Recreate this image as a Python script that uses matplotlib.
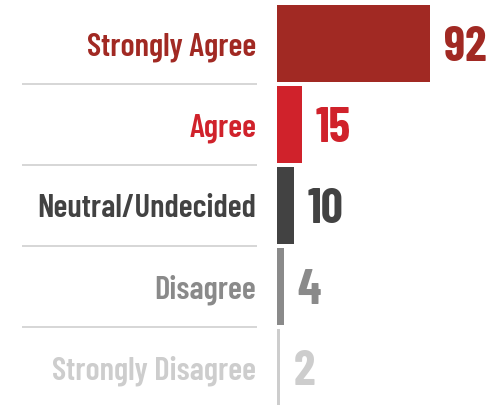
import matplotlib
matplotlib.use("Agg")
import matplotlib.pyplot as plt

# survey answers, top to bottom
categories = [
    "Strongly Agree",
    "Agree",
    "Neutral/Undecided",
    "Disagree",
    "Strongly Disagree",
]
counts = [92, 15, 10, 4, 2]
colors = ["#a12923", "#d0222b", "#424242", "#8a8a8a", "#cdcdcd"]

plt.rcParams["font.family"] = ["Barlow Condensed", "Roboto Condensed", "DejaVu Sans"]

fig = plt.figure(figsize=(4.91, 4.06), dpi=100)
ax = fig.add_axes([0, 0, 1, 1])

px_per_unit = 1.663  # bar length scale
x0_px = 277  # where bars start
rows = list(range(len(categories)))

ax.barh(rows, counts, height=0.95, color=colors, zorder=2)

for i, (cat, val, c) in enumerate(zip(categories, counts, colors)):
    ax.text(-12.5, i + 0.03, cat, ha="right", va="center",
            fontsize=23.5, fontweight=600, color=c)
    ax.annotate(str(val), xy=(val, i + 0.04), xytext=(10, 0),
                textcoords="offset points", ha="left", va="center",
                fontsize=35, fontweight="bold", color=c)

# thin rules between the rows, only under the labels
ax.hlines([r + 0.5 for r in rows[:-1]], -153.3, -12, color="#cfcfcf",
          linewidth=1.2, zorder=1)

ax.set_xlim(-x0_px / px_per_unit, (491 - x0_px) / px_per_unit)
ax.set_ylim((406 - 44.5) / 81, -44.5 / 81)
ax.axis("off")

fig.savefig("out.png", dpi=100)
